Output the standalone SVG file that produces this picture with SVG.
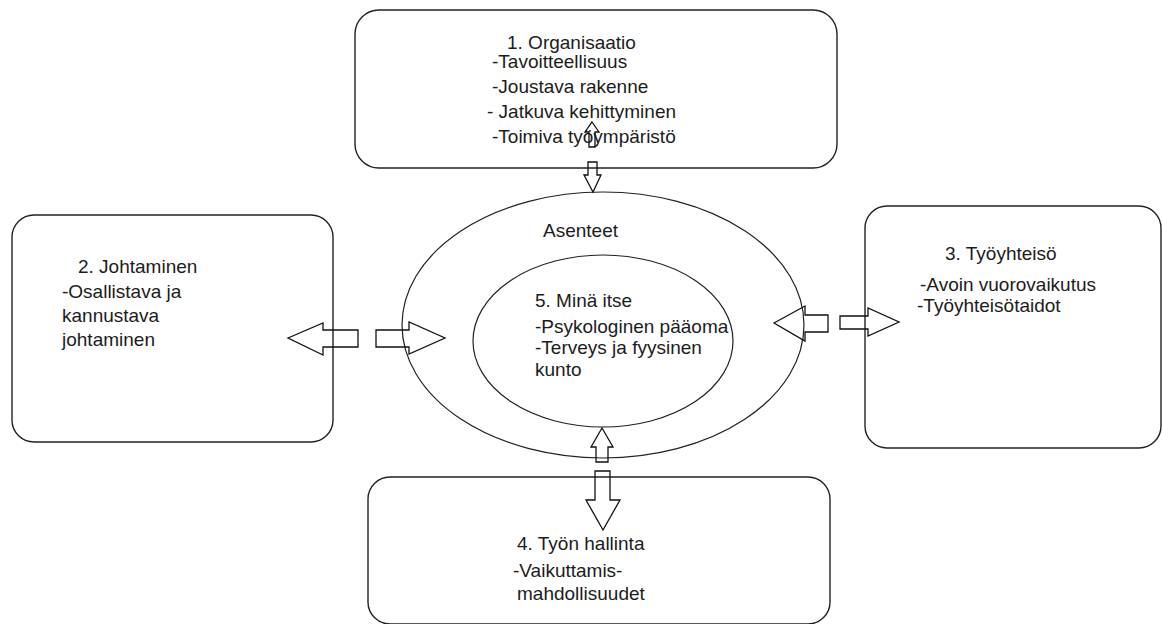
<svg xmlns="http://www.w3.org/2000/svg" width="1162" height="624" viewBox="0 0 1162 624">
<style>
.box{fill:none;stroke:#222;stroke-width:1.4}
.ell{fill:none;stroke:#222;stroke-width:1.2}
.arr{fill:none;stroke:#111;stroke-width:1.3;stroke-linejoin:miter}
text{font-family:"Liberation Sans",Arial,sans-serif;font-size:19px;fill:#1c1c1c}
</style>
<rect width="1162" height="624" fill="#fff"/>
<g id="node-organisaatio">
<rect class="box" x="355" y="10" width="482" height="158" rx="24" ry="24"/>
<text x="507" y="49">1. Organisaatio</text>
<text x="492" y="68">-Tavoitteellisuus</text>
<text x="492" y="93">-Joustava rakenne</text>
<text x="487" y="118">- Jatkuva kehittyminen</text>
<text x="492" y="143">-Toimiva työympäristö</text>
</g>
<g id="node-johtaminen">
<rect class="box" x="12" y="215" width="321" height="227" rx="22" ry="22"/>
<text x="78" y="273">2. Johtaminen</text>
<text x="62" y="298">-Osallistava ja</text>
<text x="62" y="322">kannustava</text>
<text x="62" y="346">johtaminen</text>
</g>
<g id="node-tyoyhteiso">
<rect class="box" x="865" y="206" width="296" height="242" rx="22" ry="22"/>
<text x="945" y="260">3. Työyhteisö</text>
<text x="920" y="291">-Avoin vuorovaikutus</text>
<text x="917" y="312">-Työyhteisötaidot</text>
</g>
<g id="node-tyon-hallinta">
<rect class="box" x="368" y="477" width="462" height="147" rx="22" ry="22"/>
<text x="517" y="550">4. Työn hallinta</text>
<text x="513" y="577">-Vaikuttamis-</text>
<text x="517" y="600">mahdollisuudet</text>
</g>
<g id="node-asenteet">
<ellipse class="ell" cx="603" cy="325" rx="201" ry="133"/>
<text x="543" y="237">Asenteet</text>
</g>
<g id="node-mina-itse">
<ellipse class="ell" cx="603" cy="341" rx="130" ry="86"/>
<text x="535" y="307">5. Minä itse</text>
<text x="535" y="333">-Psykologinen pääoma</text>
<text x="535" y="354">-Terveys ja fyysinen</text>
<text x="535" y="376">kunto</text>
</g>
<g id="connectors">
<polygon class="arr" points="592,122 599,132 595,132 595,147 589,147 589,132 585,132"/>
<polygon class="arr" points="588,162 597,162 597,175 601,175 593,192 584,175 588,175"/>
<polygon class="arr" points="288,338 323,323 323,330 358,330 358,347 323,347 323,355"/>
<polygon class="arr" points="376,330 409,330 409,322 445,338 409,354 409,347 376,347"/>
<polygon class="arr" points="774,323 805,306 805,315 828,315 828,332 805,332 805,341"/>
<polygon class="arr" points="840,316 868,316 868,308 899,322 868,336 868,329 840,329"/>
<polygon class="arr" points="602,428 613,447 608,447 608,462 596,462 596,447 591,447"/>
<polygon class="arr" points="595,471 610,471 610,500 620,500 603,530 586,500 595,500"/>
</g>
</svg>
